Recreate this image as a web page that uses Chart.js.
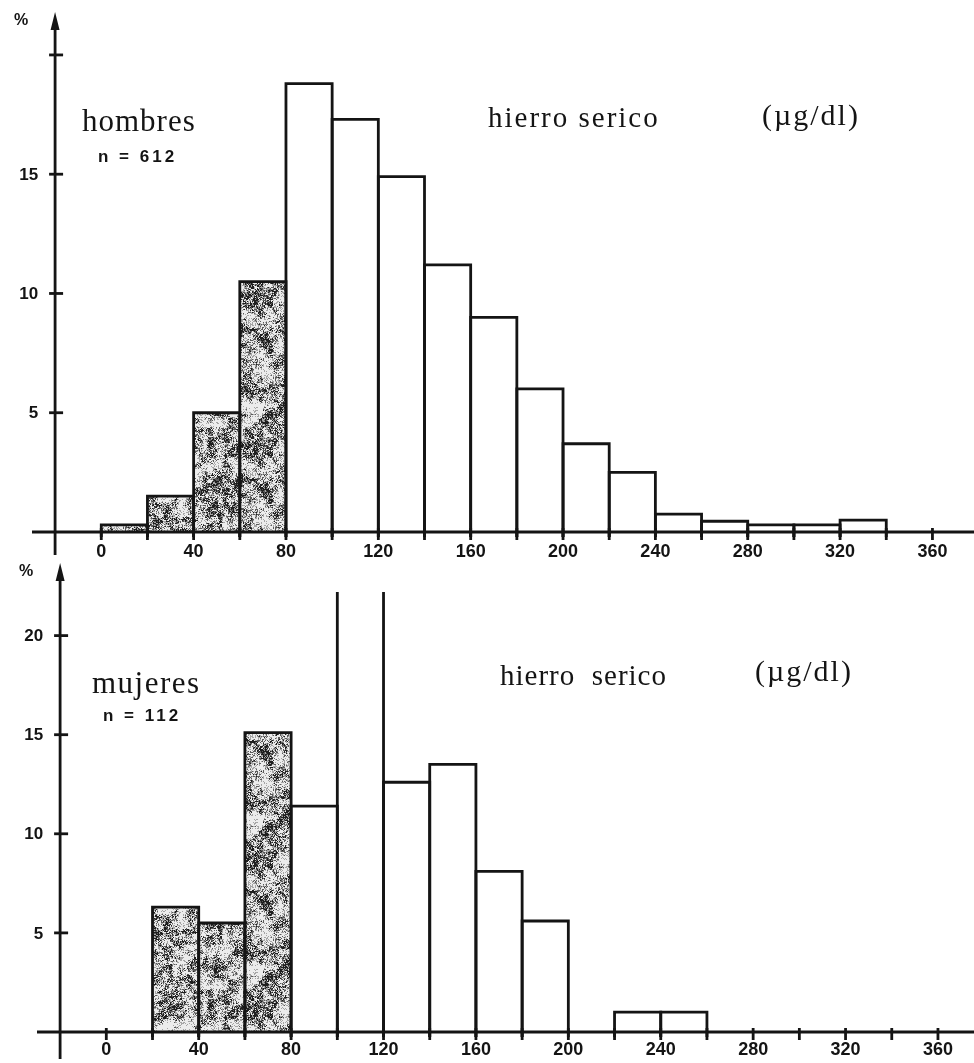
<!DOCTYPE html>
<html><head><meta charset="utf-8">
<script src="https://cdn.jsdelivr.net/npm/chart.js@4.4.1/dist/chart.umd.min.js"></script>
<style>
html,body{margin:0;padding:0;background:#fff;width:974px;height:1063px;overflow:hidden}
canvas{position:absolute;left:0}
#c1{top:0}
#c2{top:562px}
</style></head><body>
<canvas id="c1" width="974" height="562"></canvas>
<canvas id="c2" width="974" height="501"></canvas>
<script>
// ---- data ----
const binStarts = [0,20,40,60,80,100,120,140,160,180,200,220,240,260,280,300,320];
const binWidth = 20;
const hombres = [0.3,1.5,5.0,10.5,18.8,17.3,14.9,11.2,9.0,6.0,3.7,2.5,0.75,0.45,0.3,0.3,0.5];
const mujeres = [null,6.3,5.5,15.1,11.4,23,12.6,13.5,8.1,5.6,null,1.0,1.0,null,null,null,null];
const xTickValues = [0,20,40,60,80,100,120,140,160,180,200,220,240,260,280,300,320,340,360];
const xTickLabels = ['0','','40','','80','','120','','160','','200','','240','','280','','320','','360'];
const yTicksTop = [5,10,15,20];
const yLabelsTop = ['5','10','15',''];
const yTicksBottom = [5,10,15,20];
const yLabelsBottom = ['5','10','15','20'];
const shadedBelow = 80;

// ---- speckled fill texture (deterministic) ----
const speck = document.createElement('canvas');
const S = 150;
speck.width = speck.height = S;
(function(){
  const g = speck.getContext('2d');
  const img = g.createImageData(S, S);
  const hash = (x,y) => { const s = Math.sin(x*127.1 + y*311.7) * 43758.5453; return s - Math.floor(s); };
  const smooth = (x, y, cell, off) => {
    const gx = x / cell, gy = y / cell;
    const x0 = Math.floor(gx), y0 = Math.floor(gy);
    const fx = gx - x0, fy = gy - y0;
    const n = cells => ((cells % (S/cell)) + (S/cell)) % (S/cell);
    const h = (a, b) => hash(n(a) + off, n(b) + off * 2);
    const a = h(x0, y0), b = h(x0+1, y0), c = h(x0, y0+1), d = h(x0+1, y0+1);
    const ux = fx*fx*(3-2*fx), uy = fy*fy*(3-2*fy);
    return a + (b-a)*ux + (c-a)*uy + (a-b-c+d)*ux*uy;
  };
  for (let y=0;y<S;y++) for (let x=0;x<S;x++){
    const v = 0.4*hash(x, y) + 0.35*smooth(x, y, 5, 13) + 0.25*smooth(x, y, 15, 71);
    const c0 = v > 0.66 ? 30 : v > 0.57 ? 90 : v > 0.47 ? 165 : 236;
    const k = (y*S+x)*4; img.data[k]=img.data[k+1]=img.data[k+2]=c0; img.data[k+3]=255;
  }
  g.putImageData(img,0,0);
})();

const drawPlugin = {
  id: 'manualAxes',
  afterDatasetsDraw(chart) {
    const o = chart.options.plugins.manualAxes;
    const ctx = chart.ctx;
    const xs = chart.scales.x, ys = chart.scales.y;
    const ca = chart.chartArea;
    const ink = '#141414';
    // bar outlines
    ctx.save();
    ctx.beginPath(); ctx.rect(0, ca.top, chart.width, chart.height - ca.top); ctx.clip();
    ctx.strokeStyle = ink; ctx.lineWidth = 2.8; ctx.lineJoin = 'miter'; ctx.lineCap = 'butt';
    const meta = chart.getDatasetMeta(0);
    const raw = chart.data.datasets[0].data;
    meta.data.forEach((el, i) => {
      if (raw[i].y == null || raw[i].y === 0) return;
      const p = el.getProps(['x','y','base','width'], true);
      const l = p.x - p.width/2, r = p.x + p.width/2;
      ctx.beginPath();
      ctx.moveTo(l, p.base + 5); ctx.lineTo(l, p.y); ctx.lineTo(r, p.y); ctx.lineTo(r, p.base + 5);
      ctx.stroke();
    });
    ctx.restore();

    ctx.save();
    ctx.strokeStyle = ink; ctx.fillStyle = ink; ctx.lineWidth = 2.8;
    const baseY = ys.getPixelForValue(0);
    const axX = xs.getPixelForValue(o.yAxisAt);
    // x axis
    ctx.beginPath(); ctx.moveTo(ca.left, baseY); ctx.lineTo(ca.right, baseY); ctx.stroke();
    ctx.font = 'bold 18px "Liberation Sans", Arial, sans-serif';
    ctx.textAlign = 'center'; ctx.textBaseline = 'middle';
    xTickValues.forEach((v, i) => {
      const px = xs.getPixelForValue(v);
      ctx.beginPath(); ctx.moveTo(px, baseY - 4); ctx.lineTo(px, baseY + 8); ctx.stroke();
      if (xTickLabels[i]) ctx.fillText(xTickLabels[i], px, baseY + o.xLabelGap);
    });
    // y axis
    const tipY = ca.top - o.arrowAbove;
    ctx.beginPath(); ctx.moveTo(axX, tipY + 10); ctx.lineTo(axX, baseY + o.axisBelow); ctx.stroke();
    ctx.beginPath(); ctx.moveTo(axX, tipY); ctx.lineTo(axX - 4.5, tipY + 18); ctx.lineTo(axX + 4.5, tipY + 18); ctx.closePath(); ctx.fill();
    ctx.font = 'bold 17px "Liberation Sans", Arial, sans-serif';
    ctx.textAlign = 'right';
    o.yTicks.forEach((v, i) => {
      const py = ys.getPixelForValue(v);
      ctx.beginPath(); ctx.moveTo(axX - 6, py); ctx.lineTo(axX + 8, py); ctx.stroke();
      if (o.yLabels[i]) ctx.fillText(o.yLabels[i], axX - 17, py + 1);
    });
    ctx.font = 'bold 16px "Liberation Sans", Arial, sans-serif';
    ctx.textAlign = 'center';
    ctx.fillText('%', axX - 34, tipY + 9);
    // annotations
    ctx.textBaseline = 'alphabetic'; ctx.textAlign = 'left';
    o.texts.forEach(t => {
      ctx.font = t.font;
      ctx.letterSpacing = t.spacing || '0px';
      ctx.fillText(t.text, t.x, t.y);
    });
    ctx.letterSpacing = '0px';
    ctx.restore();
  }
};

function build(id, values, o) {
  const el = document.getElementById(id);
  const pat = el.getContext('2d').createPattern(speck, 'repeat');
  return new Chart(el, {
    type: 'bar',
    data: { datasets: [{
      data: binStarts.map((s, i) => ({ x: s + binWidth/2, y: values[i] })),
      backgroundColor: c => (c.raw && c.raw.x < shadedBelow) ? pat : '#ffffff',
      borderWidth: 0, categoryPercentage: 1, barPercentage: 1
    }]},
    options: {
      responsive: false, animation: false, devicePixelRatio: 1,
      layout: { padding: o.padding },
      plugins: { legend: { display: false }, tooltip: { enabled: false }, manualAxes: o },
      scales: {
        x: { type: 'linear', min: o.xMin, max: o.xMax, offset: false, display: false,
             afterBuildTicks: ax => { ax.ticks = xTickValues.map(v => ({ value: v })); } },
        y: { type: 'linear', min: 0, max: o.yMax, display: false }
      }
    },
    plugins: [drawPlugin]
  });
}

const serif = '"Liberation Serif", "DejaVu Serif", serif';
const sansB = 'bold 17px "Liberation Sans", Arial, sans-serif';

build('c1', hombres, {
  padding: { left: 32, right: 0, top: 12, bottom: 30 },
  xMin: -30, xMax: 378, yMax: 21.8, yAxisAt: -20,
  arrowAbove: 0, axisBelow: 23, xLabelGap: 20,
  yTicks: yTicksTop, yLabels: yLabelsTop,
  texts: [
    { text: 'hombres', x: 82, y: 131, font: '31px ' + serif, spacing: '1px' },
    { text: 'n = 612', x: 98, y: 162, font: sansB, spacing: '3px' },
    { text: 'hierro serico', x: 488, y: 127, font: '29px ' + serif, spacing: '2px' },
    { text: '(\u00b5g/dl)', x: 762, y: 125, font: '30px ' + serif, spacing: '2px' }
  ]
});

build('c2', mujeres, {
  padding: { left: 37, right: 0, top: 30, bottom: 31 },
  xMin: -30, xMax: 375.6, yMax: 22.2, yAxisAt: -20,
  arrowAbove: 29, axisBelow: 27, xLabelGap: 18,
  yTicks: yTicksBottom, yLabels: yLabelsBottom,
  texts: [
    { text: 'mujeres', x: 92, y: 131, font: '31px ' + serif, spacing: '1.5px' },
    { text: 'n = 112', x: 103, y: 159, font: sansB, spacing: '3px' },
    { text: 'hierro  serico', x: 500, y: 123, font: '29px ' + serif, spacing: '1px' },
    { text: '(\u00b5g/dl)', x: 755, y: 119, font: '30px ' + serif, spacing: '2px' }
  ]
});
</script>
</body></html>
